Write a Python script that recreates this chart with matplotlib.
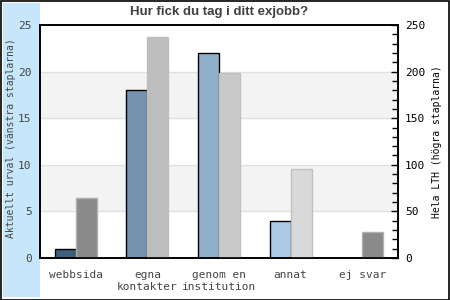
import matplotlib
matplotlib.use('Agg')
import matplotlib.pyplot as plt
from matplotlib.patches import Rectangle
from matplotlib.ticker import MultipleLocator
import numpy as np

categories = ['webbsida', 'egna\nkontakter', 'genom en\ninstitution', 'annat', 'ej svar']
urval = [1, 18, 22, 4, 0]
hela_lth = [64, 237, 199, 96, 28]

urval_colors = ['#3f5f7f', '#7393b0', '#8fb0cb', '#abcbe6', '#c5dff5']
lth_colors = ['#8a8a8a', '#bdbdbd', '#c9c9c9', '#d9d9d9', '#8a8a8a']
lth_edges = ['#b0b0b0', '#bdbdbd', '#c0c0c0', '#c0c0c0', '#b0b0b0']

mono = 'DejaVu Sans Mono'

fig = plt.figure(figsize=(4.5, 3), dpi=100)
fig.patch.set_facecolor('white')
# ljusblå remsa till vänster
fig.patches.append(Rectangle((3 / 450, 3 / 300), 37 / 450, 294 / 300,
                             transform=fig.transFigure, facecolor='#c6e6fc',
                             edgecolor='none', zorder=-1))
fig.patches.append(Rectangle((0.5 / 450, 0.5 / 300), 448.5 / 450, 298.5 / 300,
                             transform=fig.transFigure, facecolor='none',
                             edgecolor='black', linewidth=1.2, zorder=5))

ax = fig.add_axes([40 / 450, 1 - 258 / 300, 358 / 450, 233 / 300])
ax.set_xlim(-0.5, 4.5)
ax.set_ylim(0, 25)

# grå band och stödlinjer
for lo in (5, 15):
    ax.axhspan(lo, lo + 5, color='#f3f3f3', zorder=0, lw=0)
for y in (5, 10, 15, 20):
    ax.axhline(y, color='#e0e0e0', lw=1, zorder=0.5)

x = np.arange(len(categories))
w = 0.293
ax.bar(x - w / 2, urval, width=w, color=urval_colors, edgecolor='black',
       linewidth=1, zorder=2)

ax.set_xticks(x)
ax.set_xticklabels(categories, fontfamily=mono, fontsize=8, color='#444444',
                   linespacing=1.15, va='top', multialignment='center')
ax.tick_params(axis='x', length=0, pad=9)
ax.set_yticks([0, 5, 10, 15, 20, 25])
ax.tick_params(axis='y', length=0, pad=6, labelsize=8, labelcolor='#444444')
for t in ax.get_yticklabels():
    t.set_fontfamily(mono)

ax2 = ax.twinx()
ax2.set_ylim(0, 250)
ax2.bar(x + w / 2, hela_lth, width=w, color=lth_colors, edgecolor=lth_edges,
        linewidth=1, zorder=2)
ax2.yaxis.set_major_locator(MultipleLocator(50))
ax2.yaxis.set_minor_locator(MultipleLocator(10))
ax2.tick_params(axis='y', which='major', direction='in', length=5, width=1,
                labelsize=8, pad=5)
ax2.tick_params(axis='y', which='minor', direction='in', length=4, width=1)
for t in ax2.get_yticklabels():
    t.set_fontfamily(mono)

for a in (ax, ax2):
    for s in a.spines.values():
        s.set_color('black')
        s.set_linewidth(1.2)

fig.text(11 / 450, 1 - 138 / 300, 'Aktuellt urval (vänstra staplarna)',
         rotation=90, ha='center', va='center', fontfamily=mono,
         fontsize=7, color='#444444')
fig.text(437 / 450, 1 - 142 / 300, 'Hela LTH (högra staplarna)',
         rotation=90, ha='center', va='center', fontfamily=mono,
         fontsize=7, color='black')

fig.text((40 + 398) / 2 / 450, 1 - 12 / 300, 'Hur fick du tag i ditt exjobb?',
         ha='center', va='center', fontsize=9.5, fontweight='bold',
         color='#404040', fontfamily='Liberation Sans')

fig.savefig('out.png', dpi=100)
